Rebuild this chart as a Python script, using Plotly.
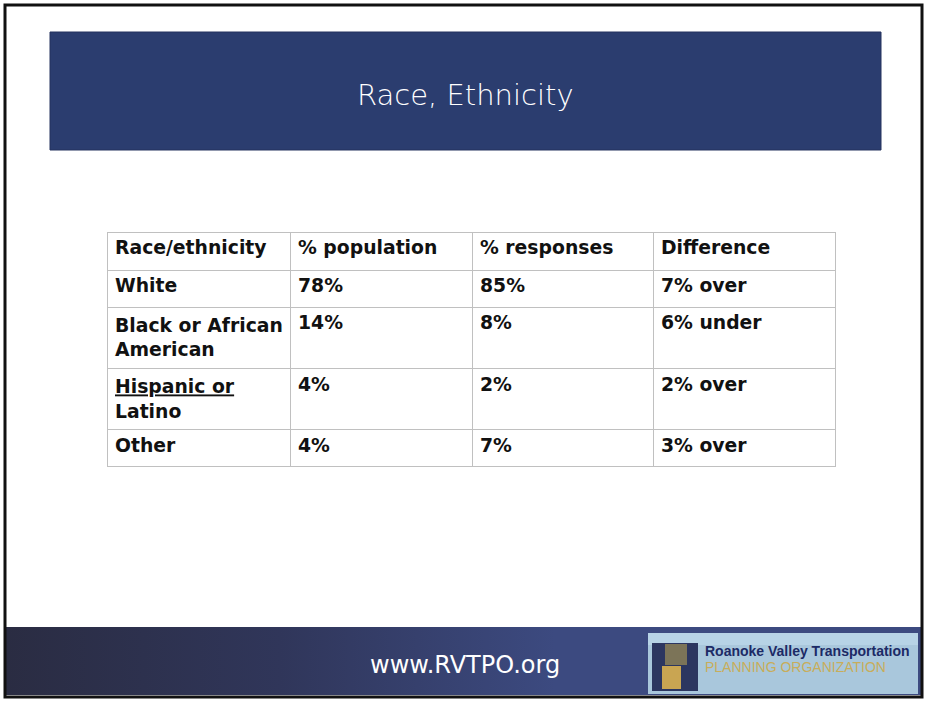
import plotly.graph_objects as go

# ---- data ----
header_labels = ["Race/ethnicity", "% population", "% responses", "Difference"]
race = ["White", "Black or African<br>American", "<u>Hispanic or</u><br>Latino", "Other"]
pct_population = ["78%", "14%", "4%", "4%"]
pct_responses = ["85%", "8%", "2%", "7%"]
difference = ["7% over", "6% under", "2% over", "3% over"]

title_text = "Race, Ethnicity"
footer_text = "www.RVTPO.org"
logo_line1 = "Roanoke Valley Transportation"
logo_line2 = "PLANNING ORGANIZATION"

W, H = 928, 704

fig = go.Figure()

# footer band with horizontal gradient
fig.add_trace(go.Scatter(
    x=[5, 922, 922, 5, 5], y=[627, 627, 695, 695, 627],
    mode="lines", line=dict(width=0), fill="toself",
    fillgradient=dict(type="horizontal",
                      colorscale=[[0, "#2a2c42"], [0.3, "#30365a"], [0.6, "#3c4a80"], [1, "#3c4a80"]]),
    hoverinfo="skip", showlegend=False))

# table
tbl_font = dict(family="DejaVu Sans", size=18.8, color="#111111", weight="bold")
fig.add_trace(go.Table(
    domain=dict(x=[107 / W, 835 / W], y=[1 - 520 / H, 1 - 232 / H]),
    columnwidth=[183, 182, 181, 182],
    header=dict(values=header_labels, fill_color="white", line=dict(color="#c0c0c0", width=1),
                font=tbl_font, align="left", height=38),
    cells=dict(values=[race, pct_population, pct_responses, difference],
               fill_color="white", line=dict(color="#c0c0c0", width=1),
               font=tbl_font, align="left", height=37),
))

shapes = [
    # title band
    dict(type="rect", xref="x", yref="y", x0=50, x1=881, y0=32, y1=150,
         fillcolor="#2b3d6f", line=dict(color="#24335e", width=1), layer="below"),
    # logo box
    dict(type="rect", xref="x", yref="y", x0=648, x1=918, y0=633, y1=694,
         fillcolor="#a9c7dc", line=dict(width=0)),
    dict(type="rect", xref="x", yref="y", x0=648, x1=918, y0=633, y1=645,
         fillcolor="#b7d3e6", line=dict(width=0)),
    # logo icon
    dict(type="rect", xref="x", yref="y", x0=652, x1=698, y0=643, y1=691,
         fillcolor="#2c3660", line=dict(width=0)),
    dict(type="rect", xref="x", yref="y", x0=665, x1=687, y0=644, y1=665,
         fillcolor="#7c7458", line=dict(width=0)),
    dict(type="rect", xref="x", yref="y", x0=662, x1=681, y0=666, y1=689,
         fillcolor="#c9a552", line=dict(width=0)),
    # outer frame
    dict(type="rect", xref="x", yref="y", x0=5, x1=922, y0=5, y1=697,
         fillcolor="rgba(0,0,0,0)", line=dict(color="#111111", width=3)),
]

annotations = [
    dict(x=465, y=95, xref="x", yref="y", text=title_text, showarrow=False,
         font=dict(family="DejaVu Sans", size=29, color="white", weight=300)),
    dict(x=465, y=665, xref="x", yref="y", text=footer_text, showarrow=False,
         font=dict(family="DejaVu Sans", size=24, color="white")),
    dict(x=703, y=651, xref="x", yref="y", text=logo_line1, showarrow=False, xanchor="left",
         font=dict(family="Liberation Sans", size=14, color="#1c2a66", weight="bold")),
    dict(x=703, y=667, xref="x", yref="y", text=logo_line2, showarrow=False, xanchor="left",
         font=dict(family="Liberation Sans", size=14, color="#c8ad5a")),
]

fig.update_layout(
    width=W, height=H, margin=dict(l=0, r=0, t=0, b=0),
    paper_bgcolor="white", plot_bgcolor="white",
    xaxis=dict(range=[0, W], visible=False, fixedrange=True),
    yaxis=dict(range=[H, 0], visible=False, fixedrange=True),
    shapes=shapes, annotations=annotations, showlegend=False,
)

fig.write_html("out.html", config={"displayModeBar": False},
               post_script="document.body.style.margin='0';")
